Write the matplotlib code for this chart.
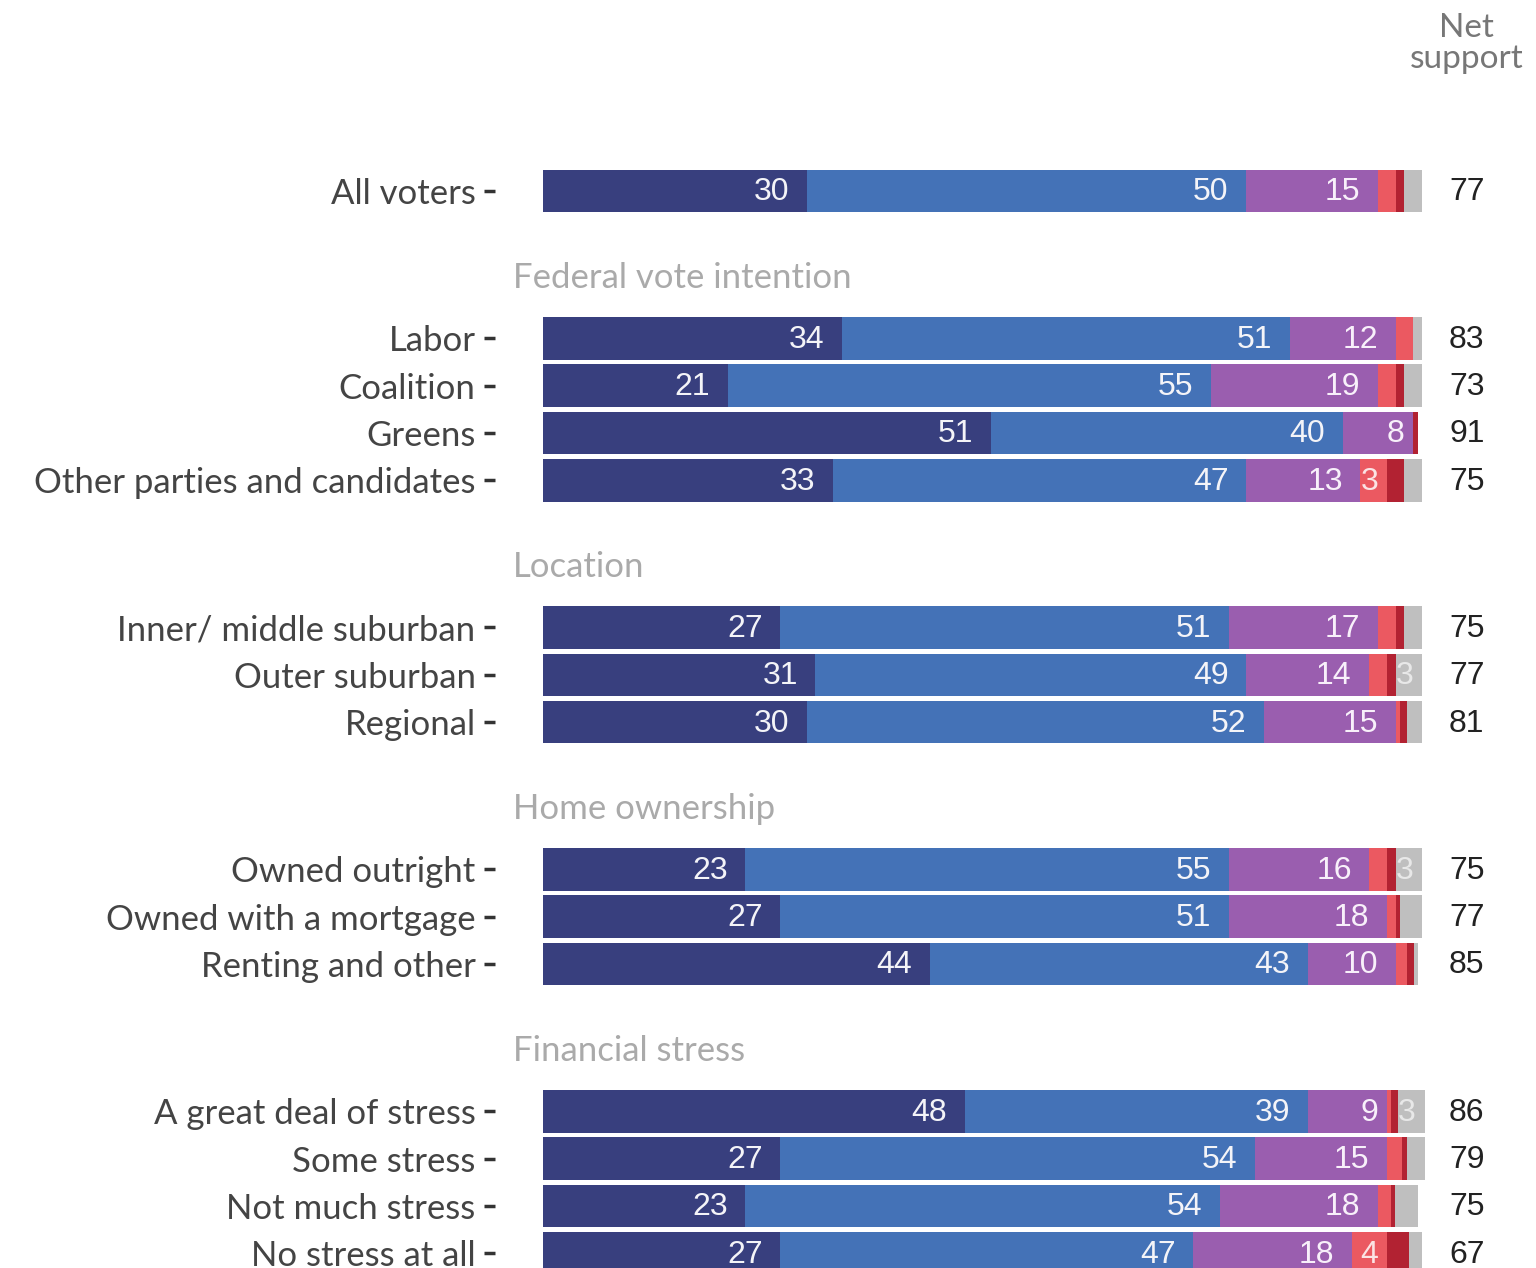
import matplotlib.pyplot as plt

plt.rcParams['font.family'] = ['Lato', 'DejaVu Sans']

# data (per cent)
groups = ["", "Federal vote intention", "Location", "Home ownership", "Financial stress"]
group_rows = [
    ["All voters"],
    ["Labor", "Coalition", "Greens", "Other parties and candidates"],
    ["Inner/ middle suburban", "Outer suburban", "Regional"],
    ["Owned outright", "Owned with a mortgage", "Renting and other"],
    ["A great deal of stress", "Some stress", "Not much stress", "No stress at all"],
]
strongly_support = [30, 34, 21, 51, 33, 27, 31, 30, 23, 27, 44, 48, 27, 23, 27]
support = [50, 51, 55, 40, 47, 51, 49, 52, 55, 51, 43, 39, 54, 54, 47]
neither = [15, 12, 19, 8, 13, 17, 14, 15, 16, 18, 10, 9, 15, 18, 18]
oppose = [2, 2, 2, 0, 3, 2, 2, 0.5, 2, 1, 1.3, 0.5, 1.7, 1.5, 4]
strongly_oppose = [1, 0, 1, 0.5, 2, 1, 1, 0.8, 1, 0.5, 0.8, 0.8, 0.6, 0.4, 2.5]
dont_know = [2, 1, 2, 0, 2, 2, 3, 1.7, 3, 2.5, 0.5, 3, 2, 2.7, 1.5]
net_support = [77, 83, 73, 91, 75, 75, 77, 81, 75, 77, 85, 86, 79, 75, 67]

series = [strongly_support, support, neither, oppose, strongly_oppose, dont_know]
colors = ["#383F7E", "#4472B7", "#9A5EAF", "#EB5961", "#B22232", "#BFBFBF"]
label_colors = ["#F4F4F8", "#F4F4F8", "#F8F0FA", "#FBE3E4", "white", "#E8E8E8"]

# row positions: a gap with a header between groups
GAP = 2.11
labels, ypos, headers = [], [], []
y = 0
for gi, (g, rows) in enumerate(zip(groups, group_rows)):
    if gi > 0:
        y += GAP
        headers.append((g, y - 1.28))
    for r in rows:
        labels.append(r)
        ypos.append(y)
        y += 1

fig = plt.figure(figsize=(15.36, 12.68), dpi=100)
ax = fig.add_axes([495 / 1536, 0, 1 - 495 / 1536, 1])

left = [0] * len(labels)
for vals, c, lc in zip(series, colors, label_colors):
    ax.barh(ypos, vals, left=left, height=0.9, color=c, edgecolor='none')
    for yy, l, v in zip(ypos, left, vals):
        if v >= 3:
            txt = f"{v:g}"
            # label sits half its own width in from the segment end
            ax.text(l + v - 1.0 * len(txt), yy + 0.03, txt, ha='right', va='center',
                    color=lc, fontsize=23, family=['Liberation Sans'])
    left = [a + b for a, b in zip(left, vals)]

for yy, n in zip(ypos, net_support):
    ax.text(105.1, yy + 0.03, str(n), ha='center', va='center', fontsize=23,
            color='#222222', family=['Liberation Sans'])

for g, yy in headers:
    ax.text(-3.4, yy, g, ha='left', va='center', fontsize=25, color='#AAAAAA')

ax.text(105.1, -3.12, "Net\nsupport", ha='center', va='center', fontsize=24,
        color='#777777', linespacing=1.05)

ax.set_yticks(ypos)
ax.set_yticklabels(labels, fontsize=25, color='#444444')
ax.tick_params(axis='y', length=8, width=2.5, color='#333333', pad=6)
ax.set_xticks([])
ax.set_xlim(-5.46, 112.97)
ax.set_ylim(22.75, -4.035)
for s in ax.spines.values():
    s.set_visible(False)

fig.savefig("out.png", dpi=100)
